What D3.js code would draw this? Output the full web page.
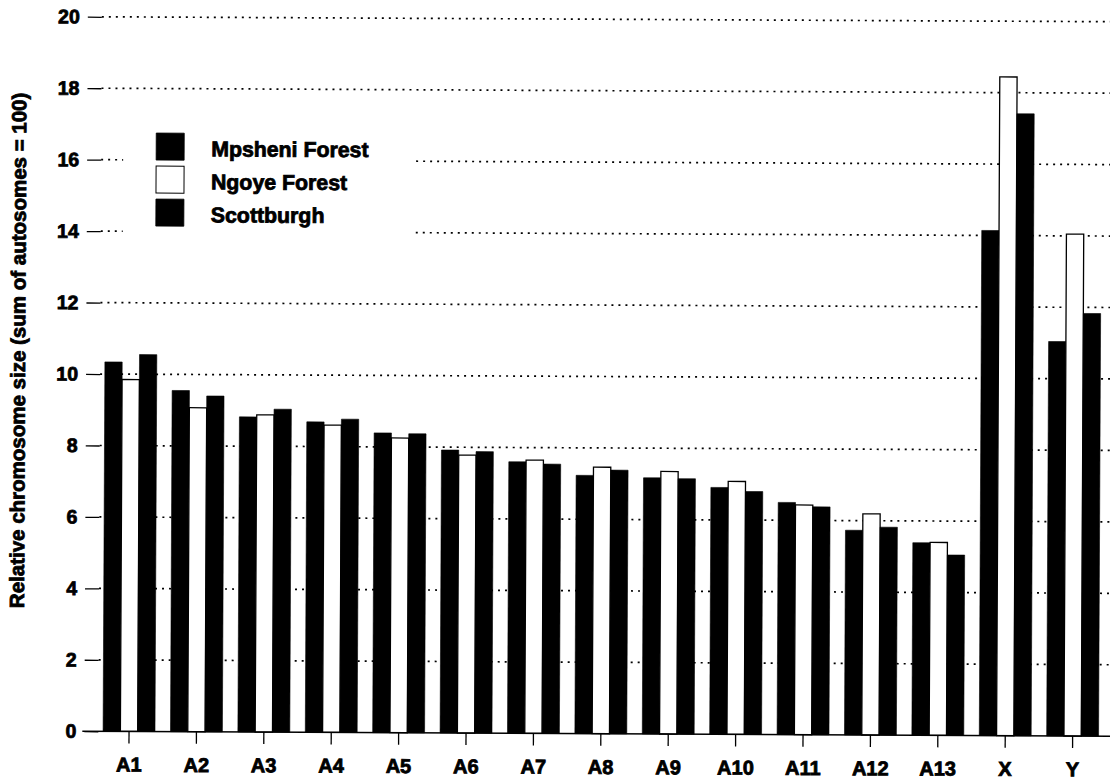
<!DOCTYPE html>
<html>
<head>
<meta charset="utf-8">
<script src="https://cdn.jsdelivr.net/npm/d3@7"></script>
<style>
  html, body { margin: 0; padding: 0; background: #fff; }
  svg { display: block; }
  text { font-family: "Liberation Sans", Arial, Helvetica, sans-serif; font-weight: bold; fill: #000; stroke: #000; stroke-width: 0.8px; }
</style>
</head>
<body>
<svg id="chart" width="1110" height="784"></svg>
<script>
// Relative chromosome sizes (sum of autosomes = 100) for three populations
const categories = ["A1", "A2", "A3", "A4", "A5", "A6", "A7", "A8", "A9", "A10", "A11", "A12", "A13", "X", "Y"];
const seriesNames = ["Mpsheni Forest", "Ngoye Forest", "Scottburgh"];
const mpsheni    = [10.34, 9.55, 8.82, 8.69, 8.39, 7.92, 7.60, 7.23, 7.17, 6.91, 6.50, 5.73, 5.39, 14.14, 11.04];
const ngoye      = [9.85, 9.07, 8.88, 8.60, 8.25, 7.78, 7.65, 7.46, 7.35, 7.08, 6.43, 6.19, 5.40, 18.44, 14.05];
const scottburgh = [10.55, 9.40, 9.04, 8.77, 8.37, 7.88, 7.54, 7.38, 7.15, 6.80, 6.38, 5.82, 5.05, 17.41, 11.83];
const yTicks = [0, 2, 4, 6, 8, 10, 12, 14, 16, 18, 20];
const yTitle = "Relative chromosome size (sum of autosomes = 100)";

const seriesValues = [mpsheni, ngoye, scottburgh];
const seriesFill = ["#000", "#fff", "#000"];

const svg = d3.select("#chart");
// the printed figure sits a touch askew on the page
const root = svg.append("g").attr("transform", "rotate(0.28 555 392)");

const plotLeft = 100, plotRight = 1112;
const x = d3.scaleBand().domain(categories).range([97, 1108]).paddingInner(0.23).paddingOuter(0.115);
const xs = d3.scaleBand().domain(seriesNames).range([0, x.bandwidth()]);
const y = d3.scaleLinear().domain([0, 20]).range([733.5, 19]);

// dotted horizontal gridlines
root.append("g").selectAll("line")
  .data(yTicks.filter(d => d > 0))
  .join("line")
  .attr("x1", plotLeft).attr("x2", plotRight)
  .attr("y1", d => y(d)).attr("y2", d => y(d))
  .attr("stroke", "#000").attr("stroke-width", 1.7)
  .attr("stroke-dasharray", "2,5");

// y axis ticks and labels
const yAxis = root.append("g")
  .attr("transform", `translate(${plotLeft},0)`)
  .call(d3.axisLeft(y).tickValues(yTicks).tickSize(14).tickPadding(8).tickFormat(d3.format("d")));
yAxis.select(".domain").remove();
yAxis.selectAll(".tick line").attr("stroke", "#000").attr("stroke-width", 1.3);
yAxis.selectAll(".tick text").attr("font-size", 19.5).attr("font-family", null).attr("fill", null);

// legend box (blanks the gridlines behind it)
const legend = root.append("g");
legend.append("rect").attr("x", 122).attr("y", 112).attr("width", 290).attr("height", 138).attr("fill", "#fff");
seriesNames.forEach((name, i) => {
  const gy = 135 + i * 33;
  legend.append("rect")
    .attr("x", 155).attr("y", gy).attr("width", 28).attr("height", 27)
    .attr("fill", seriesFill[i]).attr("stroke", "#000").attr("stroke-width", i === 1 ? 1 : 0.8);
  legend.append("text")
    .attr("x", 210).attr("y", gy + 23)
    .attr("font-size", 21.3)
    .text(name);
});

// bars
const groups = root.append("g").selectAll("g")
  .data(categories)
  .join("g")
  .attr("transform", d => `translate(${x(d)},0)`);

groups.selectAll("rect")
  .data((c, ci) => seriesNames.map((s, si) => ({ series: s, si, value: seriesValues[si][ci] })))
  .join("rect")
  .attr("x", d => xs(d.series))
  .attr("width", xs.bandwidth())
  .attr("y", d => y(d.value))
  .attr("height", d => y(0) - y(d.value))
  .attr("fill", d => seriesFill[d.si])
  .attr("stroke", "#000")
  .attr("stroke-width", d => d.si === 1 ? 1.3 : 0.6);

// baseline and category axis
root.append("line")
  .attr("x1", 84).attr("x2", plotRight)
  .attr("y1", y(0)).attr("y2", y(0))
  .attr("stroke", "#000").attr("stroke-width", 1.4);

const xAxis = root.append("g")
  .attr("transform", `translate(0,${y(0)})`)
  .call(d3.axisBottom(x).tickSize(12).tickPadding(14));
xAxis.select(".domain").remove();
xAxis.selectAll(".tick line").attr("stroke", "#000").attr("stroke-width", 1.3);
xAxis.selectAll(".tick text").attr("font-size", 20).attr("font-family", null).attr("fill", null);

// y axis title
root.append("text")
  .attr("transform", "translate(25,353) rotate(-90)")
  .attr("text-anchor", "middle")
  .attr("font-size", 20.5)
  .text(yTitle);
</script>
</body>
</html>
